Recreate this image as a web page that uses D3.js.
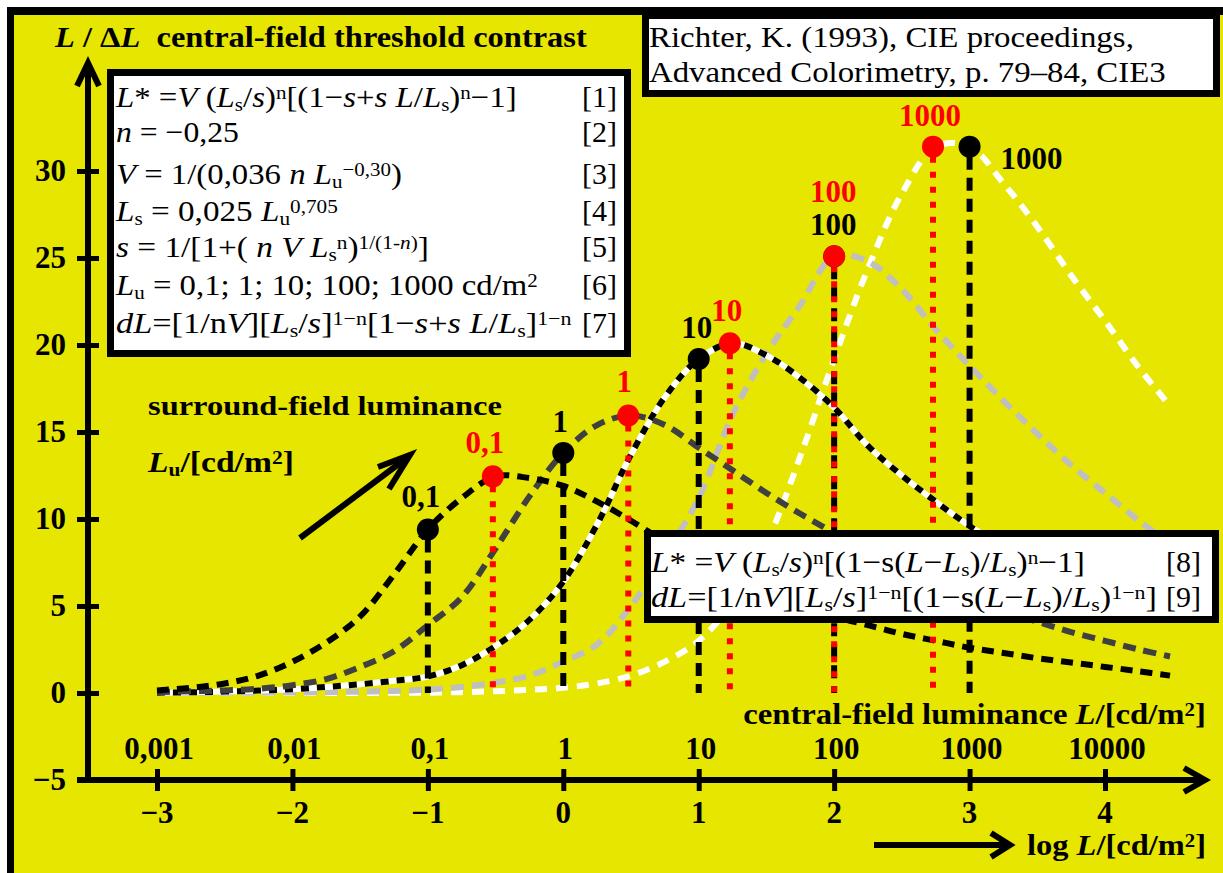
<!DOCTYPE html>
<html>
<head>
<meta charset="utf-8">
<script src="https://cdn.jsdelivr.net/npm/d3@7"></script>
<style>
  html, body { margin: 0; padding: 0; background: #ffffff; }
  svg { display: block; }
  text { font-family: "Liberation Serif", "Times New Roman", serif; white-space: pre; }
</style>
</head>
<body>
<svg id="chart" width="1223" height="873"></svg>
<script>
// log10 of the central-field luminance L in cd/m²
const logL = [-3, -2.75, -2.5, -2.25, -2, -1.75, -1.5, -1.25, -1, -0.75, -0.5, -0.25, 0,
              0.25, 0.5, 0.75, 1, 1.25, 1.5, 1.75, 2, 2.25, 2.5, 2.75, 3, 3.25, 3.5, 3.75, 4, 4.25, 4.48];

// central-field threshold contrast L/ΔL for each surround-field luminance Lu
const contrastLu01   = [0.15, 0.3, 0.55, 1.0, 1.8, 2.9, 4.4, 6.8, 9.4, 11.2, 12.45, 12.35, 11.9,
                        11.0, 9.9, 8.7, 7.7, 6.7, 5.9, 5.1, 4.4, 3.9, 3.4, 3.0, 2.6, 2.3, 2.0, 1.75, 1.5, 1.25, 1.0];
const contrastLu1    = [0.05, 0.1, 0.15, 0.25, 0.45, 0.8, 1.5, 2.4, 3.9, 5.5, 8.3, 11.3, 13.8,
                        15.4, 15.95, 15.4, 14.1, 12.8, 11.5, 10.3, 9.2, 8.1, 7.1, 6.2, 5.4, 4.7, 4.1, 3.5, 3.0, 2.5, 2.1];
const contrastLu10   = [0.02, 0.04, 0.08, 0.14, 0.22, 0.35, 0.5, 0.7, 0.95, 1.6, 2.7, 4.2, 6.4,
                        9.7, 13.7, 17.0, 19.2, 20.1, 19.4, 18.1, 16.4, 14.2, 12.5, 11.0, 9.6, 8.4, 7.4, 6.5, 5.7, 5.0, 4.5];
const contrastLu100  = [0.0, 0.0, 0.01, 0.02, 0.03, 0.05, 0.08, 0.12, 0.2, 0.35, 0.6, 1.0, 1.8,
                        2.8, 5.0, 7.9, 11.2, 16.0, 19.5, 22.3, 25.1, 24.8, 23.2, 20.9, 18.8, 16.8, 14.9, 13.1, 11.5, 9.9, 8.6];
const contrastLu1000 = [0.0, 0.0, 0.0, 0.0, 0.0, 0.0, 0.0, 0.01, 0.02, 0.05, 0.1, 0.18, 0.3,
                        0.55, 1.0, 1.8, 3.0, 5.2, 8.6, 13.6, 19.2, 24.4, 28.7, 31.4, 31.4, 29.3, 26.8, 24.0, 21.4, 18.7, 16.5];

// surround-field luminance labels and the marked points
const surroundLabels = ["0,1", "1", "10", "100", "1000"];
const surroundLogLu  = [-1, 0, 1, 2, 3];            // L = Lu
const surroundValue  = [9.4, 13.8, 19.2, 25.1, 31.4];
const peakLogL       = [-0.52, 0.48, 1.23, 2.0, 2.73]; // maximum of each curve
const peakValue      = [12.45, 15.95, 20.1, 25.1, 31.4];

// axis ticks
const yTicks        = [-5, 0, 5, 10, 15, 20, 25, 30];
const yTickLabels   = ["\u22125", "0", "5", "10", "15", "20", "25", "30"];
const xTicks        = [-3, -2, -1, 0, 1, 2, 3, 4];
const xTickLabels   = ["\u22123", "\u22122", "\u22121", "0", "1", "2", "3", "4"];
const lumTickLabels = ["0,001", "0,01", "0,1", "1", "10", "100", "1000", "10000"];

const svg = d3.select("#chart");
const YELLOW = "#e6e600";

const x = d3.scaleLinear().domain([-3, 4]).range([157, 1105]);
const y = d3.scaleLinear().domain([-5, 30]).range([780, 171]);

// ---- frame ----
svg.append("rect").attr("x", 7).attr("y", 7).attr("width", 1216).attr("height", 866).attr("fill", YELLOW);
svg.append("rect").attr("x", 7).attr("y", 7).attr("width", 1216).attr("height", 8).attr("fill", "#000");
svg.append("rect").attr("x", 7).attr("y", 7).attr("width", 7).attr("height", 866).attr("fill", "#000");

// rich text helper: parts are [string, flags]; flags: i italic, _ subscript, ^ superscript
function rich(sel, parts, size) {
  let shift = 0;
  parts.forEach(([s, f = ""]) => {
    let target = 0, fs = size;
    if (f.includes("_")) { target = size * 0.12; fs = size * 0.64; }
    if (f.includes("^")) { target = -size * 0.28; fs = size * 0.64; }
    const ts = sel.append("tspan").text(s).attr("font-size", fs).attr("dy", target - shift);
    if (f.includes("i")) ts.attr("font-style", "italic");
    shift = target;
  });
  return sel;
}

// stretch a text horizontally about its anchor so that it spans the given width
function fit(sel, width, anchorX) {
  const w = sel.node().getBBox().width;
  if (w > 0) {
    const sx = width / w;
    sel.attr("transform", `translate(${anchorX},0) scale(${sx},1) translate(${-anchorX},0)`);
  }
  return sel;
}

// ---- axes ----
const axisG = svg.append("g");
const yAxis = d3.axisRight(y).tickValues(yTicks).tickSize(22).tickFormat("");
axisG.append("g").attr("transform", "translate(77,0)").call(yAxis)
  .call(g => g.select(".domain").remove())
  .call(g => g.selectAll(".tick line").attr("stroke", "#000").attr("stroke-width", 5));
const xAxis = d3.axisBottom(x).tickValues(xTicks).tickSize(22).tickFormat("");
axisG.append("g").attr("transform", "translate(0,769)").call(xAxis)
  .call(g => g.select(".domain").remove())
  .call(g => g.selectAll(".tick line").attr("stroke", "#000").attr("stroke-width", 5));

axisG.append("line").attr("x1", 88).attr("y1", 783).attr("x2", 88).attr("y2", 64)
  .attr("stroke", "#000").attr("stroke-width", 6);
axisG.append("line").attr("x1", 77).attr("y1", 780).attr("x2", 1203).attr("y2", 780)
  .attr("stroke", "#000").attr("stroke-width", 6);

function arrowHead(g, tip, a, b) {
  g.append("path").attr("d", `M${a[0]},${a[1]}L${tip[0]},${tip[1]}L${b[0]},${b[1]}`)
    .attr("fill", "none").attr("stroke", "#000").attr("stroke-width", 6)
    .attr("stroke-linecap", "butt").attr("stroke-linejoin", "miter");
}
arrowHead(axisG, [88, 63], [77, 86], [99, 86]);
arrowHead(axisG, [1205, 780], [1184, 768], [1184, 792]);

// y tick labels
axisG.selectAll(".ylab").data(yTicks).join("text")
  .attr("x", 66).attr("y", d => y(d) + 10).attr("text-anchor", "end")
  .attr("font-size", 31).attr("font-weight", "bold")
  .text((d, i) => yTickLabels[i]);
// x tick labels (log L) and luminance labels
axisG.selectAll(".xlab").data(xTicks).join("text")
  .attr("x", d => x(d)).attr("y", 823).attr("text-anchor", "middle")
  .attr("font-size", 31).attr("font-weight", "bold")
  .text((d, i) => xTickLabels[i]);
axisG.selectAll(".lumlab").data(xTicks).join("text")
  .attr("x", d => x(d) + 2).attr("y", 759).attr("text-anchor", "middle")
  .attr("font-size", 31).attr("font-weight", "bold")
  .text((d, i) => lumTickLabels[i]);

// axis titles
fit(rich(svg.append("text").attr("x", 55).attr("y", 47).attr("font-weight", "bold"),
  [["L", "i"], [" / \u0394"], ["L", "i"], ["  central-field threshold contrast"]], 30), 533, 55);
fit(rich(svg.append("text").attr("x", 1206).attr("y", 724).attr("font-weight", "bold").attr("text-anchor", "end"),
  [["central-field luminance "], ["L", "i"], ["/[cd/m"], ["2", "^"], ["]"]], 30), 463, 1206);
fit(rich(svg.append("text").attr("x", 1206).attr("y", 855).attr("font-weight", "bold").attr("text-anchor", "end"),
  [["log "], ["L", "i"], ["/[cd/m"], ["2", "^"], ["]"]], 30), 179, 1206);
svg.append("line").attr("x1", 874).attr("y1", 845).attr("x2", 1008).attr("y2", 845)
  .attr("stroke", "#000").attr("stroke-width", 6);
arrowHead(svg, [1010, 845], [991, 833], [991, 857]);

// ---- curves ----
const series = [
  { vals: contrastLu1000, color: "#ffffff", dash: "12 9" },
  { vals: contrastLu100,  color: "#bfbfbf", dash: "13 8" },
  { vals: contrastLu10,   color: "#000000", dash: "8 8", under: "#ffffff" },
  { vals: contrastLu1,    color: "#404040", dash: "13 8" },
  { vals: contrastLu01,   color: "#000000", dash: "12 8" }
];
const line = d3.line().x(d => x(d[0])).y(d => y(d[1])).curve(d3.curveCatmullRom.alpha(0.5));
const curveG = svg.append("g");
series.forEach(s => {
  const pts = logL.map((v, i) => [v, s.vals[i]]);
  if (s.under) {
    curveG.append("path").attr("d", line(pts)).attr("fill", "none")
      .attr("stroke", s.under).attr("stroke-width", 6);
  }
  curveG.append("path").attr("d", line(pts)).attr("fill", "none")
    .attr("stroke", s.color).attr("stroke-width", 6).attr("stroke-dasharray", s.dash);
});

// ---- drop lines and markers ----
const markG = svg.append("g");
surroundLogLu.forEach((v, i) => {
  markG.append("line").attr("x1", x(v)).attr("x2", x(v))
    .attr("y1", y(surroundValue[i]) + 10).attr("y2", y(0))
    .attr("stroke", "#000").attr("stroke-width", 6).attr("stroke-dasharray", "13 8");
});
peakLogL.forEach((v, i) => {
  markG.append("line").attr("x1", x(v)).attr("x2", x(v))
    .attr("y1", y(peakValue[i]) + 10).attr("y2", y(0))
    .attr("stroke", "#ff0000").attr("stroke-width", 6).attr("stroke-dasharray", "6 9");
});
markG.selectAll(".bdot").data(surroundLogLu).join("circle")
  .attr("cx", d => x(d)).attr("cy", (d, i) => y(surroundValue[i])).attr("r", 11).attr("fill", "#000");
markG.selectAll(".rdot").data(peakLogL).join("circle")
  .attr("cx", d => x(d)).attr("cy", (d, i) => y(peakValue[i])).attr("r", 11).attr("fill", "#ff0000");

// marker labels
const blackOff = [[-7, -22, "middle"], [-3, -21, "middle"], [-2, -21, "middle"], [-1, -21, "middle"], [31, 22, "start"]];
const redOff   = [[-8, -23, "middle"], [-4, -23, "middle"], [-3, -22, "middle"], [-1, -54, "middle"], [-3, -21, "middle"]];
surroundLabels.forEach((lab, i) => {
  markG.append("text").attr("x", x(surroundLogLu[i]) + blackOff[i][0]).attr("y", y(surroundValue[i]) + blackOff[i][1])
    .attr("text-anchor", blackOff[i][2]).attr("font-size", 31).attr("font-weight", "bold").attr("fill", "#000").text(lab);
  markG.append("text").attr("x", x(peakLogL[i]) + redOff[i][0]).attr("y", y(peakValue[i]) + redOff[i][1])
    .attr("text-anchor", redOff[i][2]).attr("font-size", 31).attr("font-weight", "bold").attr("fill", "#ff0000").text(lab);
});

// surround-field annotation with arrow
fit(svg.append("text").attr("x", 148).attr("y", 415).attr("font-size", 28).attr("font-weight", "bold")
  .text("surround-field luminance"), 354, 148);
fit(rich(svg.append("text").attr("x", 148).attr("y", 472).attr("font-weight", "bold"),
  [["L", "i"], ["u", "_"], ["/[cd/m"], ["2", "^"], ["]"]], 30), 147, 148);
svg.append("line").attr("x1", 300).attr("y1", 538).attr("x2", 408).attr("y2", 457)
  .attr("stroke", "#000").attr("stroke-width", 6);
arrowHead(svg, [410, 455], [378, 467], [389, 489]);

// ---- formula boxes ----
function box(x0, y0, x1, y1) {
  svg.append("rect").attr("x", x0 + 3.5).attr("y", y0 + 3.5).attr("width", x1 - x0 - 7).attr("height", y1 - y0 - 7)
    .attr("fill", "#fff").attr("stroke", "#000").attr("stroke-width", 7);
}

box(107, 69, 631, 357);
const eqs = [
  [["L", "i"], ["* ="], ["V", "i"], [" ("], ["L", "i"], ["s", "_"], ["/"], ["s", "i"], [")"], ["n", "^"], ["[(1\u2212"], ["s", "i"], ["+"], ["s", "i"], [" "], ["L", "i"], ["/"], ["L", "i"], ["s", "_"], [")"], ["n", "^"], ["\u22121]"]],
  [["n", "i"], [" = \u22120,25"]],
  [["V", "i"], [" = 1/(0,036 "], ["n", "i"], [" "], ["L", "i"], ["u", "_"], ["\u22120,30", "^"], [")"]],
  [["L", "i"], ["s", "_"], [" = 0,025 "], ["L", "i"], ["u", "_"], ["0,705", "^"]],
  [["s", "i"], [" = 1/[1+( "], ["n", "i"], [" "], ["V", "i"], [" "], ["L", "i"], ["s", "_"], ["n", "^"], [")"], ["1/(1-", "^"], ["n", "^i"], [")", "^"], ["]"]],
  [["L", "i"], ["u", "_"], [" = 0,1; 1; 10; 100; 1000 cd/m"], ["2", "^"]],
  [["dL", "i"], ["=[1/n"], ["V", "i"], ["]["], ["L", "i"], ["s", "_"], ["/"], ["s", "i"], ["]"], ["1\u2212n", "^"], ["[1\u2212"], ["s", "i"], ["+"], ["s", "i"], [" "], ["L", "i"], ["/"], ["L", "i"], ["s", "_"], ["]"], ["1\u2212n", "^"]]
];
const eqBase  = [107, 142, 184, 221, 257, 295, 333];
const eqWidth = [402, 123, 286, 223, 313, 423, 456];
eqs.forEach((parts, i) => {
  fit(rich(svg.append("text").attr("x", 116).attr("y", eqBase[i]), parts, 30), eqWidth[i], 116);
  svg.append("text").attr("x", 617).attr("y", eqBase[i]).attr("text-anchor", "end").attr("font-size", 30).text(`[${i + 1}]`);
});

box(642, 12, 1220, 97);
fit(svg.append("text").attr("x", 649).attr("y", 47).attr("font-size", 30).text("Richter, K. (1993), CIE proceedings,"), 485, 649);
fit(svg.append("text").attr("x", 649).attr("y", 82).attr("font-size", 30).text("Advanced Colorimetry, p. 79\u201384, CIE3"), 517, 649);

box(644, 530, 1219, 623);
const eqs2 = [
  [["L", "i"], ["* ="], ["V", "i"], [" ("], ["L", "i"], ["s", "_"], ["/"], ["s", "i"], [")"], ["n", "^"], ["[(1\u2212s("], ["L", "i"], ["\u2212"], ["L", "i"], ["s", "_"], [")/"], ["L", "i"], ["s", "_"], [")"], ["n", "^"], ["\u22121]"]],
  [["dL", "i"], ["=[1/n"], ["V", "i"], ["]["], ["L", "i"], ["s", "_"], ["/"], ["s", "i"], ["]"], ["1\u2212n", "^"], ["[(1\u2212s("], ["L", "i"], ["\u2212"], ["L", "i"], ["s", "_"], [")/"], ["L", "i"], ["s", "_"], [")"], ["1\u2212n", "^"], ["]"]]
];
const eqBase2  = [572, 607];
const eqWidth2 = [435, 506];
eqs2.forEach((parts, i) => {
  fit(rich(svg.append("text").attr("x", 651).attr("y", eqBase2[i]), parts, 30), eqWidth2[i], 651);
  svg.append("text").attr("x", 1201).attr("y", eqBase2[i]).attr("text-anchor", "end").attr("font-size", 30).text(`[${i + 8}]`);
});
</script>
</body>
</html>
